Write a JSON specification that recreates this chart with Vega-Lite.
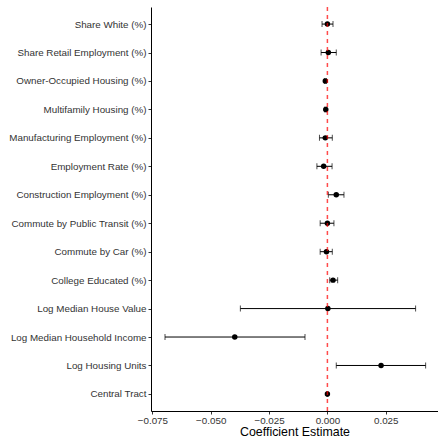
{
  "$schema": "https://vega.github.io/schema/vega-lite/v6.json",
  "width": 287,
  "height": 404,
  "autosize": {"type": "none"},
  "padding": {"left": 151, "top": 7, "right": 0, "bottom": 28},
  "background": "white",
  "config": {
    "view": {"stroke": null},
    "font": "Liberation Sans",
    "axis": {"grid": false, "domainColor": "#000000", "tickColor": "#333333", "labelColor": "#333333", "labelFont": "Liberation Sans", "titleFont": "Liberation Sans", "titleFontWeight": "normal"}
  },
  "data": {
    "values": [
      {"var": "Share White (%)", "est": 0.0, "lo": -0.0023, "hi": 0.0024},
      {"var": "Share Retail Employment (%)", "est": 0.0004, "lo": -0.0027, "hi": 0.0038},
      {"var": "Owner-Occupied Housing (%)", "est": -0.0009, "lo": -0.0013, "hi": -0.0005},
      {"var": "Multifamily Housing (%)", "est": -0.0007, "lo": -0.0011, "hi": -0.0003},
      {"var": "Manufacturing Employment (%)", "est": -0.0009, "lo": -0.0034, "hi": 0.0021},
      {"var": "Employment Rate (%)", "est": -0.0016, "lo": -0.0045, "hi": 0.0020},
      {"var": "Construction Employment (%)", "est": 0.0038, "lo": 0.0004, "hi": 0.0071},
      {"var": "Commute by Public Transit (%)", "est": 0.0, "lo": -0.0031, "hi": 0.0028},
      {"var": "Commute by Car (%)", "est": -0.0004, "lo": -0.0031, "hi": 0.0021},
      {"var": "College Educated (%)", "est": 0.0024, "lo": 0.0010, "hi": 0.0044},
      {"var": "Log Median House Value", "est": 0.0002, "lo": -0.0373, "hi": 0.0378},
      {"var": "Log Median Household Income", "est": -0.0397, "lo": -0.0696, "hi": -0.0096},
      {"var": "Log Housing Units", "est": 0.0230, "lo": 0.0038, "hi": 0.0421},
      {"var": "Central Tract", "est": 0.0, "lo": -0.0002, "hi": 0.0002}
    ]
  },
  "encoding": {
    "y": {
      "field": "var", "type": "nominal", "sort": null,
      "scale": {"type": "point", "padding": 0.6},
      "axis": {"title": null, "labelFontSize": 9.8, "labelLimit": 200, "tickSize": 3, "labelPadding": 2, "domainWidth": 1}
    }
  },
  "layer": [
    {
      "mark": {"type": "rule", "color": "black", "strokeWidth": 1},
      "encoding": {
        "x": {
          "field": "lo", "type": "quantitative",
          "scale": {"domain": [-0.0756, 0.0474], "nice": false, "zero": false},
          "axis": {"title": "Coefficient Estimate", "values": [-0.075, -0.05, -0.025, 0, 0.025], "format": ".3f", "labelFontSize": 9.8, "titleFontSize": 12.4, "titleColor": "#000000", "tickSize": 3, "labelPadding": 1, "titlePadding": 1, "domainWidth": 1}
        },
        "x2": {"field": "hi"}
      }
    },
    {
      "mark": {"type": "tick", "color": "black", "size": 6, "thickness": 1, "orient": "vertical"},
      "encoding": {"x": {"field": "lo", "type": "quantitative"}}
    },
    {
      "mark": {"type": "tick", "color": "black", "size": 6, "thickness": 1, "orient": "vertical"},
      "encoding": {"x": {"field": "hi", "type": "quantitative"}}
    },
    {
      "mark": {"type": "circle", "color": "black", "size": 30, "opacity": 1},
      "encoding": {"x": {"field": "est", "type": "quantitative"}}
    },
    {
      "data": {"values": [{"zero": 0}]},
      "mark": {"type": "rule", "color": "#ff0000", "opacity": 0.7, "strokeDash": [4, 4], "strokeWidth": 1.5},
      "encoding": {"x": {"field": "zero", "type": "quantitative"}, "y": null}
    }
  ]
}
